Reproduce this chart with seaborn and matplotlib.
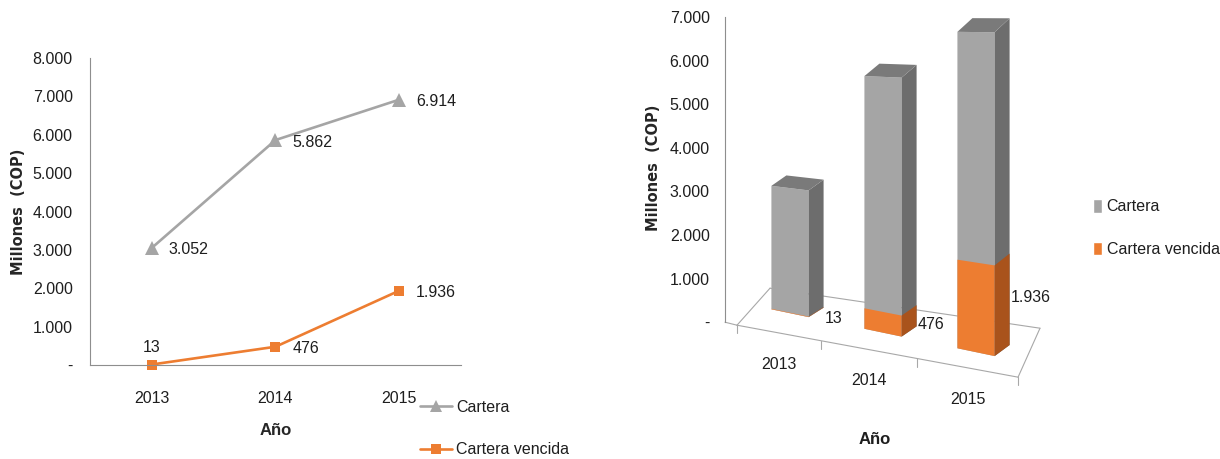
import numpy as np
import pandas as pd
import seaborn as sns
import matplotlib.pyplot as plt
from matplotlib.transforms import Transform
from matplotlib.patches import Polygon, Patch
from matplotlib.lines import Line2D

# ---- data -------------------------------------------------------------
years = ["2013", "2014", "2015"]
cartera = [3052, 5862, 6914]
cartera_vencida = [13, 476, 1936]
series_names = ["Cartera", "Cartera vencida"]
y_ticks_left = list(range(0, 8001, 1000))
y_ticks_right = list(range(0, 7001, 1000))


def fmt(v):
    """Spanish thousands separator, '-' for zero."""
    return "-" if v == 0 else f"{v:,.0f}".replace(",", ".")


# ---- style -------------------------------------------------------------
sns.set_style("white")
plt.rcParams["font.family"] = ["Liberation Sans", "DejaVu Sans"]
plt.rcParams["text.color"] = "#1e1e1e"
plt.rcParams["xtick.color"] = "#1e1e1e"
plt.rcParams["ytick.color"] = "#1e1e1e"

GRAY = "#A5A5A5"
GRAY_SIDE = "#6D6D6D"
GRAY_TOP = "#7A7A7A"
ORANGE = "#ED7D31"
ORANGE_SIDE = "#A9531C"
AXIS = "#8E8E8E"
FS = 11.5

W, H = 1220, 459
fig = plt.figure(figsize=(W / 100, H / 100), dpi=100)


def box(l, t, r, b):
    return [l / W, 1 - b / H, (r - l) / W, (b - t) / H]


# ======================= left: line chart ===============================
ax1 = fig.add_axes(box(90, 58, 461, 365))
df = pd.DataFrame({
    "Año": years * 2,
    "Millones": cartera + cartera_vencida,
    "Serie": [series_names[0]] * len(years) + [series_names[1]] * len(years),
})
sns.lineplot(
    data=df, x="Año", y="Millones", hue="Serie", style="Serie",
    markers={series_names[0]: "^", series_names[1]: "s"}, dashes=False,
    palette={series_names[0]: GRAY, series_names[1]: ORANGE},
    linewidth=1.9, markeredgewidth=0, legend=False, ax=ax1,
)
for line, ms in zip(ax1.lines, [9.5, 7.5]):
    line.set_markersize(ms)
    line.set_clip_on(False)

ax1.set_xlim(-0.5, 2.5)
ax1.set_ylim(0, 8000)
ax1.set_yticks(y_ticks_left, [fmt(v) for v in y_ticks_left])
ax1.set_xticks(range(len(years)), years)
ax1.set_xticks([-0.5, 0.5, 1.5, 2.5], minor=True)
ax1.tick_params(axis="y", length=4.5, width=0.8, color=AXIS, pad=8, labelsize=FS)
ax1.tick_params(axis="x", which="major", length=0, pad=19, labelsize=FS)
ax1.tick_params(axis="x", which="minor", length=6, width=0.8, color=AXIS)
for s in ["top", "right"]:
    ax1.spines[s].set_visible(False)
for s in ["left", "bottom"]:
    ax1.spines[s].set_color(AXIS)
    ax1.spines[s].set_linewidth(0.8)

for i, v in enumerate(cartera):
    ax1.annotate(fmt(v), (i, v), xytext=(12, -1.5), textcoords="offset points",
                 ha="left", va="center", fontsize=FS)
for i, v in enumerate(cartera_vencida):
    if i == 0:
        ax1.annotate(fmt(v), (i, v), xytext=(0, 12), textcoords="offset points",
                     ha="center", va="center", fontsize=FS)
    else:
        ax1.annotate(fmt(v), (i, v), xytext=(12, -1.5), textcoords="offset points",
                     ha="left", va="center", fontsize=FS)

ax1.set_xlabel("Año", fontsize=FS + 0.5, fontweight="bold")
ax1.xaxis.set_label_coords(0.5, -0.19)
ax1.set_ylabel("Millones  (COP)", fontsize=10.5, fontweight="bold", family="DejaVu Sans")
ax1.yaxis.set_label_coords(-0.172, 0.5)

line_handles = [
    Line2D([], [], color=GRAY, marker="^", markersize=8, lw=1.9, markeredgewidth=0),
    Line2D([], [], color=ORANGE, marker="s", markersize=7, lw=1.9, markeredgewidth=0),
]
fig.legend(line_handles, series_names, loc="upper left",
           bbox_to_anchor=(420 / W, 1 - 400 / H), frameon=False, fontsize=FS,
           handlelength=2.0, handletextpad=0.25, labelspacing=1.7,
           borderpad=0, borderaxespad=0)


# ======================= right: pseudo-3D columns =======================
class Oblique(Transform):
    """Perspective-like floor: later categories sit lower and look larger."""
    input_dims = output_dims = 2
    has_inverse = False

    def __init__(self, s0, s1, k, b):
        super().__init__()
        self.s0, self.s1, self.k, self.b = s0, s1, k, b

    def transform_non_affine(self, values):
        xy = np.asarray(values, dtype=float)
        x, y = xy[:, 0], xy[:, 1]
        return np.column_stack([x, y * (self.s0 + self.s1 * x) - self.k * x + self.b])


ax2 = fig.add_axes(box(725, 17, 1060, 410))
sns.barplot(x=years, y=cartera, color=GRAY, width=0.4, saturation=1, ax=ax2)
sns.barplot(x=years, y=cartera_vencida, color=ORANGE, width=0.4, saturation=1, ax=ax2)
ax2.set_xlim(-0.699, 2.903)
ax2.set_ylim(-2014, 7000)

proj = Oblique(0.94, 0.061, 447, 206) + ax2.transData
DX, DY = 0.161, 300  # depth of each column

gray_bars = ax2.patches[:len(years)]
orange_bars = ax2.patches[len(years):2 * len(years)]


def extrude(rect, side_col, top_col, z, top=True):
    rect.set_transform(proj)
    rect.set_zorder(z)
    rect.set_edgecolor("none")
    rect.set_clip_on(False)
    x0, w, h = rect.get_x(), rect.get_width(), rect.get_height()
    x1 = x0 + w
    side = Polygon([(x1, 0), (x1 + DX, DY), (x1 + DX, h + DY), (x1, h)],
                   closed=True, facecolor=side_col, edgecolor="none",
                   transform=proj, zorder=z, clip_on=False)
    ax2.add_patch(side)
    if top:
        lid = Polygon([(x0, h), (x1, h), (x1 + DX, h + DY), (x0 + DX, h + DY)],
                      closed=True, facecolor=top_col, edgecolor="none",
                      transform=proj, zorder=z, clip_on=False)
        ax2.add_patch(lid)


for r in gray_bars:
    extrude(r, GRAY_SIDE, GRAY_TOP, 3)
for r in orange_bars:
    extrude(r, ORANGE_SIDE, ORANGE_SIDE, 4, top=False)

for r, v in zip(orange_bars, cartera_vencida):
    xr = r.get_x() + r.get_width() + DX + 0.01
    ax2.annotate(fmt(v), (xr, 0.66 * v + 30), xycoords=proj, ha="left",
                 va="center", fontsize=FS, zorder=6)

# floor outline
FL, FR = (-0.57, -69), (2.452, -1261)
BL, BR = (-0.215, 780), (2.688, -138)
floor_kw = dict(color="#A8A8A8", lw=0.8, clip_on=False, zorder=1)
for a, b in [(FL, FR), (BL, BR), (FL, BL), (FR, BR)]:
    ax2.plot([a[0], b[0]], [a[1], b[1]], **floor_kw)
ax2.plot([-0.699, FL[0]], [0, FL[1]], **floor_kw)

fracs = [0.0, 0.30, 0.64, 1.0]
pts = [(FL[0] + f * (FR[0] - FL[0]), FL[1] + f * (FR[1] - FL[1])) for f in fracs]
for (px, py) in pts:
    ax2.plot([px, px], [py, py - 190], **floor_kw)
for i, yr in enumerate(years):
    mx = (pts[i][0] + pts[i + 1][0]) / 2
    my = (pts[i][1] + pts[i + 1][1]) / 2
    ax2.annotate(yr, (mx, my), xytext=(0, -22.5), textcoords="offset points",
                 ha="center", va="center", fontsize=FS, annotation_clip=False)

ax2.set_xticks([])
ax2.set_yticks(y_ticks_right, [fmt(v) for v in y_ticks_right])
ax2.tick_params(axis="y", length=5, width=0.8, color=AXIS, pad=6, labelsize=FS)
for s in ["top", "right", "bottom"]:
    ax2.spines[s].set_visible(False)
ax2.spines["left"].set_bounds(0, 7000)
ax2.spines["left"].set_color(AXIS)
ax2.spines["left"].set_linewidth(0.8)
ax2.set_xlabel("")
ax2.set_ylabel("Millones  (COP)", fontsize=10.5, fontweight="bold", family="DejaVu Sans")
ax2.yaxis.set_label_coords(-0.19, 0.616)
fig.text(875 / W, 1 - 440 / H, "Año", ha="center", va="center",
         fontsize=FS + 0.5, fontweight="bold")

fig.legend([Patch(facecolor=GRAY), Patch(facecolor=ORANGE)], series_names,
           loc="upper left", bbox_to_anchor=(1093 / W, 1 - 199 / H),
           frameon=False, fontsize=FS, handlelength=0.55, handleheight=0.95,
           handletextpad=0.3, labelspacing=1.7, borderpad=0, borderaxespad=0)

fig.savefig("out.png", dpi=100)
